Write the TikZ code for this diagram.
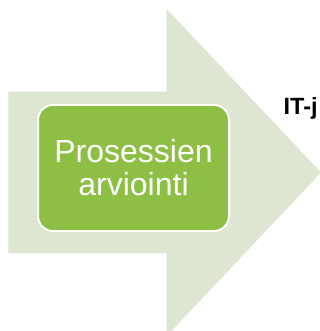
\documentclass[tikz,border=0pt]{standalone}
\usepackage{fontspec}
\setmainfont{Liberation Sans}
\definecolor{arrowgreen}{HTML}{DCE6D0}
\definecolor{boxgreen}{HTML}{8DBF45}
\begin{document}
\begin{tikzpicture}[x=1pt,y=-1pt,
  procbox/.style={draw=white,line width=2pt,fill=boxgreen,rounded corners=15pt,
    minimum width=191pt,minimum height=126pt,inner sep=0pt,align=center,
    text=white,font=\fontsize{32}{33}\selectfont},
  sidelabel/.style={anchor=base west,inner sep=0pt,font=\bfseries\fontsize{23.5}{26}\selectfont}]
\useasboundingbox (0,0) rectangle (320,331);
\clip (0,0) rectangle (320,331);
\fill[white] (0,0) rectangle (320,331);
% big arrow
\fill[arrowgreen] (8.3,91.7) -- (166.7,91.7) -- (166.7,9) -- (321,172.5)
  -- (166.7,336) -- (166.7,253.3) -- (8.3,253.3) -- cycle;
\node[procbox] (box) at (133.5,168) {Prosessien\\arviointi};
\node[sidelabel] (it) at (283.5,114) {IT-j};
\end{tikzpicture}
\end{document}
